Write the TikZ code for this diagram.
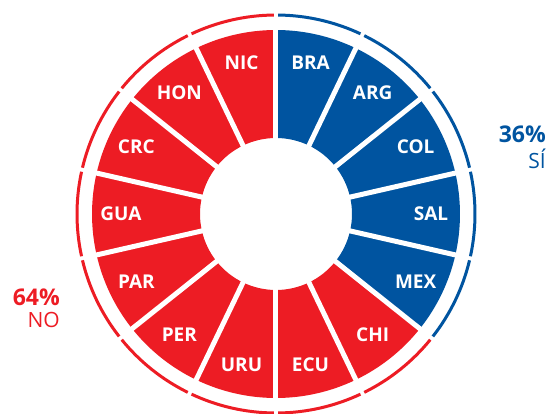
\documentclass[tikz,border=0pt]{standalone}
\usepackage{fontspec}
\setmainfont{Open Sans}
\usetikzlibrary{positioning}
\definecolor{nored}{RGB}{237,28,36}
\definecolor{siblue}{RGB}{0,84,160}

\begin{document}
\begin{tikzpicture}[x=1pt,y=1pt,
    country/.style={text=white,font=\fontsize{19}{19}\selectfont\bfseries},
    share/.style={font=\fontsize{23}{23}\selectfont\bfseries,anchor=east,inner sep=0pt},
    answer/.style={font=\fontsize{21}{21}\selectfont,anchor=north east,inner sep=0pt}]
    \useasboundingbox (-276,-199) rectangle (273,214);
    % wedges and outer arcs
    \foreach \name [count=\i from 0] in {BRA,ARG,COL,SAL,MEX,CHI,ECU,URU,PER,PAR,GUA,CRC,HON,NIC} {
      \pgfmathsetmacro{\a}{90-\i*360/14}
      \pgfmathsetmacro{\b}{\a-360/14}
      \ifnum\i<5 \def\col{siblue}\else\def\col{nored}\fi
      \fill[\col] (\a:76pt) -- (\a:184pt) arc[start angle=\a,end angle=\b,radius=184pt]
                  -- (\b:76pt) arc[start angle=\b,end angle=\a,radius=76pt] -- cycle;
      \draw[\col,line width=3pt] (\a-0.6:199pt) arc[start angle=\a-0.6,end angle=\b+0.6,radius=199pt];
    }
    % separators
    \foreach \i in {0,...,13}
      \draw[white,line width=5pt] (90-\i*360/14:70pt) -- (90-\i*360/14:190pt);
    % labels
    \foreach \name [count=\i from 0] in {BRA,ARG,COL,SAL,MEX,CHI,ECU,URU,PER,PAR,GUA,CRC,HON,NIC}
      \node[country] (\name) at (90-\i*360/14-180/14:155pt) {\name};
    % shares
    \node[share,text=siblue] (pctsi) at (270,80) {36\%};
    \node[answer,text=siblue] (si) at ([yshift=-6pt]pctsi.south east) {SÍ};
    \node[share,text=nored]  (pctno) at (-216,-83) {64\%};
    \node[answer,text=nored] (no) at ([yshift=-6pt]pctno.south east) {NO};
\end{tikzpicture}
\end{document}
